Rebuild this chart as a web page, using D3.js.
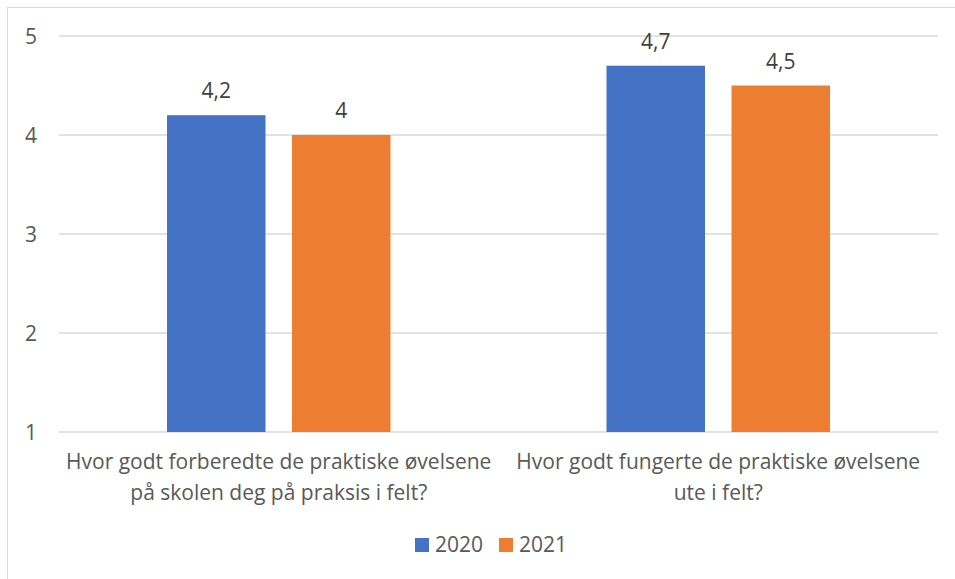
<!DOCTYPE html>
<html><head><meta charset="utf-8">
<script src="https://cdn.jsdelivr.net/npm/d3@7"></script>
<style>body{margin:0;background:#fff;}svg{display:block;font-family:"Open Sans","Noto Sans",sans-serif;}</style>
</head><body>
<svg id="c" width="955" height="579"></svg>
<script>
const categories = [["Hvor godt forberedte de praktiske øvelsene","på skolen deg på praksis i felt?"],["Hvor godt fungerte de praktiske øvelsene","ute i felt?"]];
const seriesNames = ["2020","2021"];
const values2020 = [4.2, 4.7];
const values2021 = [4.0, 4.5];
const yTicks = [1,2,3,4,5];
const colors = ["#4472C4","#ED7D31"];

const svg = d3.select("#c");
svg.append("rect").attr("x",7.5).attr("y",7.5).attr("width",960).attr("height",600).attr("fill","none").attr("stroke","#d9d9d9");

const x0 = d3.scaleBand().domain([0,1]).range([59,938]);
const x1 = d3.scaleBand().domain([0,1]).range([0,x0.bandwidth()]).paddingInner(0.212).paddingOuter(0.864);
const y = d3.scaleLinear().domain([1,5]).range([432,36]);

const g = svg.append("g");
g.selectAll("line.grid").data(yTicks).enter().append("line")
  .attr("x1",59).attr("x2",938).attr("y1",d=>y(d)).attr("y2",d=>y(d))
  .attr("stroke","#d9d9d9").attr("stroke-width",1.3);
g.selectAll("text.yt").data(yTicks).enter().append("text")
  .attr("x",37).attr("y",d=>y(d)+7.5).attr("text-anchor","end")
  .attr("font-size",21).attr("fill","#595959").text(d=>d);

const series = [values2020, values2021];
series.forEach((vals,si)=>{
  vals.forEach((v,ci)=>{
    const bx = x0(ci)+x1(si);
    g.append("rect").attr("x",bx).attr("y",y(v)).attr("width",x1.bandwidth()).attr("height",y(1)-y(v)).attr("fill",colors[si]);
    g.append("text").attr("x",bx+x1.bandwidth()/2).attr("y",y(v)-17).attr("text-anchor","middle")
      .attr("font-size",21).attr("fill","#404040").text(String(v).replace(".",","));
  });
});

categories.forEach((lines,ci)=>{
  const cx = x0(ci)+x0.bandwidth()/2;
  lines.forEach((t,li)=>{
    g.append("text").attr("x",cx).attr("y",469+li*31).attr("text-anchor","middle")
      .attr("font-size",21).attr("fill","#595959").text(t);
  });
});

const leg = svg.append("g");
const legX = [415,499];
seriesNames.forEach((n,i)=>{
  leg.append("rect").attr("x",legX[i]).attr("y",538).attr("width",14).attr("height",14).attr("fill",colors[i]);
  leg.append("text").attr("x",legX[i]+20).attr("y",552).attr("font-size",21).attr("fill","#595959").text(n);
});
</script>
</body></html>
